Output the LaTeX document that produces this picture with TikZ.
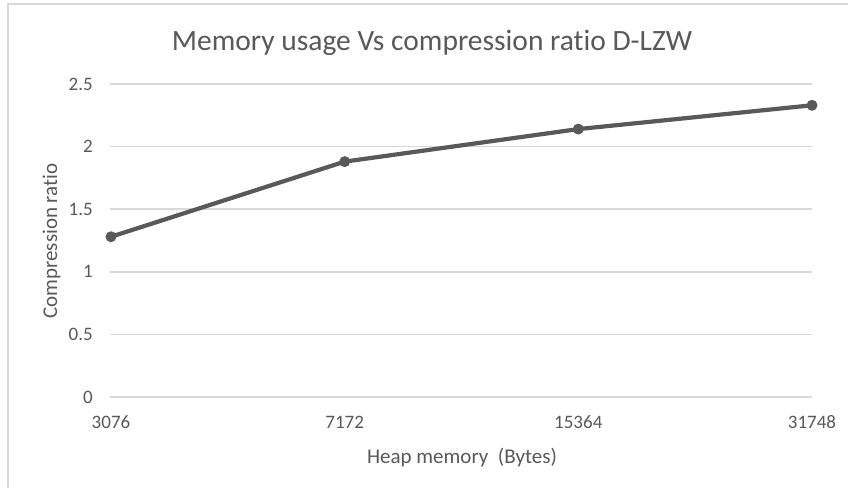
\documentclass[tikz,border=0pt]{standalone}
\usepackage{fontspec}
\setmainfont{Carlito}[Ligatures=NoCommon]
\definecolor{txtgray}{HTML}{595959}
\definecolor{gridgray}{HTML}{D9D9D9}
\definecolor{linegray}{HTML}{595959}
\tikzset{
  ticklabel/.style={text=txtgray, inner sep=0pt, font=\fontsize{19}{22}\selectfont},
  axistitle/.style={text=txtgray, inner sep=0pt, font=\fontsize{21}{24}\selectfont},
  gridline/.style={gridgray, line width=1.5pt},
  dataline/.style={linegray, line width=4.2pt, line join=round},
  marker/.style={circle, fill=linegray, inner sep=0pt, minimum size=11pt}
}
\begin{document}
\begin{tikzpicture}[x=1pt, y=-1pt]
        \useasboundingbox (0,0) rectangle (848,488);
        \fill[white] (0,0) rectangle (848,488);

        % Chart frame
        \draw[gridline] (8,488) -- (8,4) -- (848,4);

        % Title
        \node[text=txtgray, inner sep=0pt, anchor=base, font=\fontsize{29.5}{33}\selectfont] (title) at (432,50) {Memory usage Vs compression ratio D-LZW};

        % Gridlines and y tick labels
        \foreach \v [count=\i] in {0,0.5,1,1.5,2,2.5} {
            \draw[gridline] (110,{397-125.2*\v}) -- (812,{397-125.2*\v});
            \node[ticklabel, anchor=east] (ytick\i) at (93,{397-125.2*\v}) {\v};
        }

        % x tick labels
        \node[ticklabel, anchor=base] (xtick1) at (111,428) {3076};
        \node[ticklabel, anchor=base] (xtick2) at (344.7,428) {7172};
        \node[ticklabel, anchor=base] (xtick3) at (578.3,428) {15364};
        \node[ticklabel, anchor=base] (xtick4) at (812,428) {31748};

        % Axis titles
        \node[axistitle, anchor=base] (xtitle) at (462,463) {Heap memory\ \ (Bytes)};
        \node[axistitle, anchor=base, rotate=90] (ytitle) at (57,241) {Compression ratio};

        % Data points
        \node[marker] (m1) at (111,{397-125.2*1.28}) {};
        \node[marker] (m2) at (344.7,{397-125.2*1.88}) {};
        \node[marker] (m3) at (578.3,{397-125.2*2.14}) {};
        \node[marker] (m4) at (812,{397-125.2*2.33}) {};
        \draw[dataline] (m1.center) -- (m2.center) -- (m3.center) -- (m4.center);
\end{tikzpicture}
\end{document}
